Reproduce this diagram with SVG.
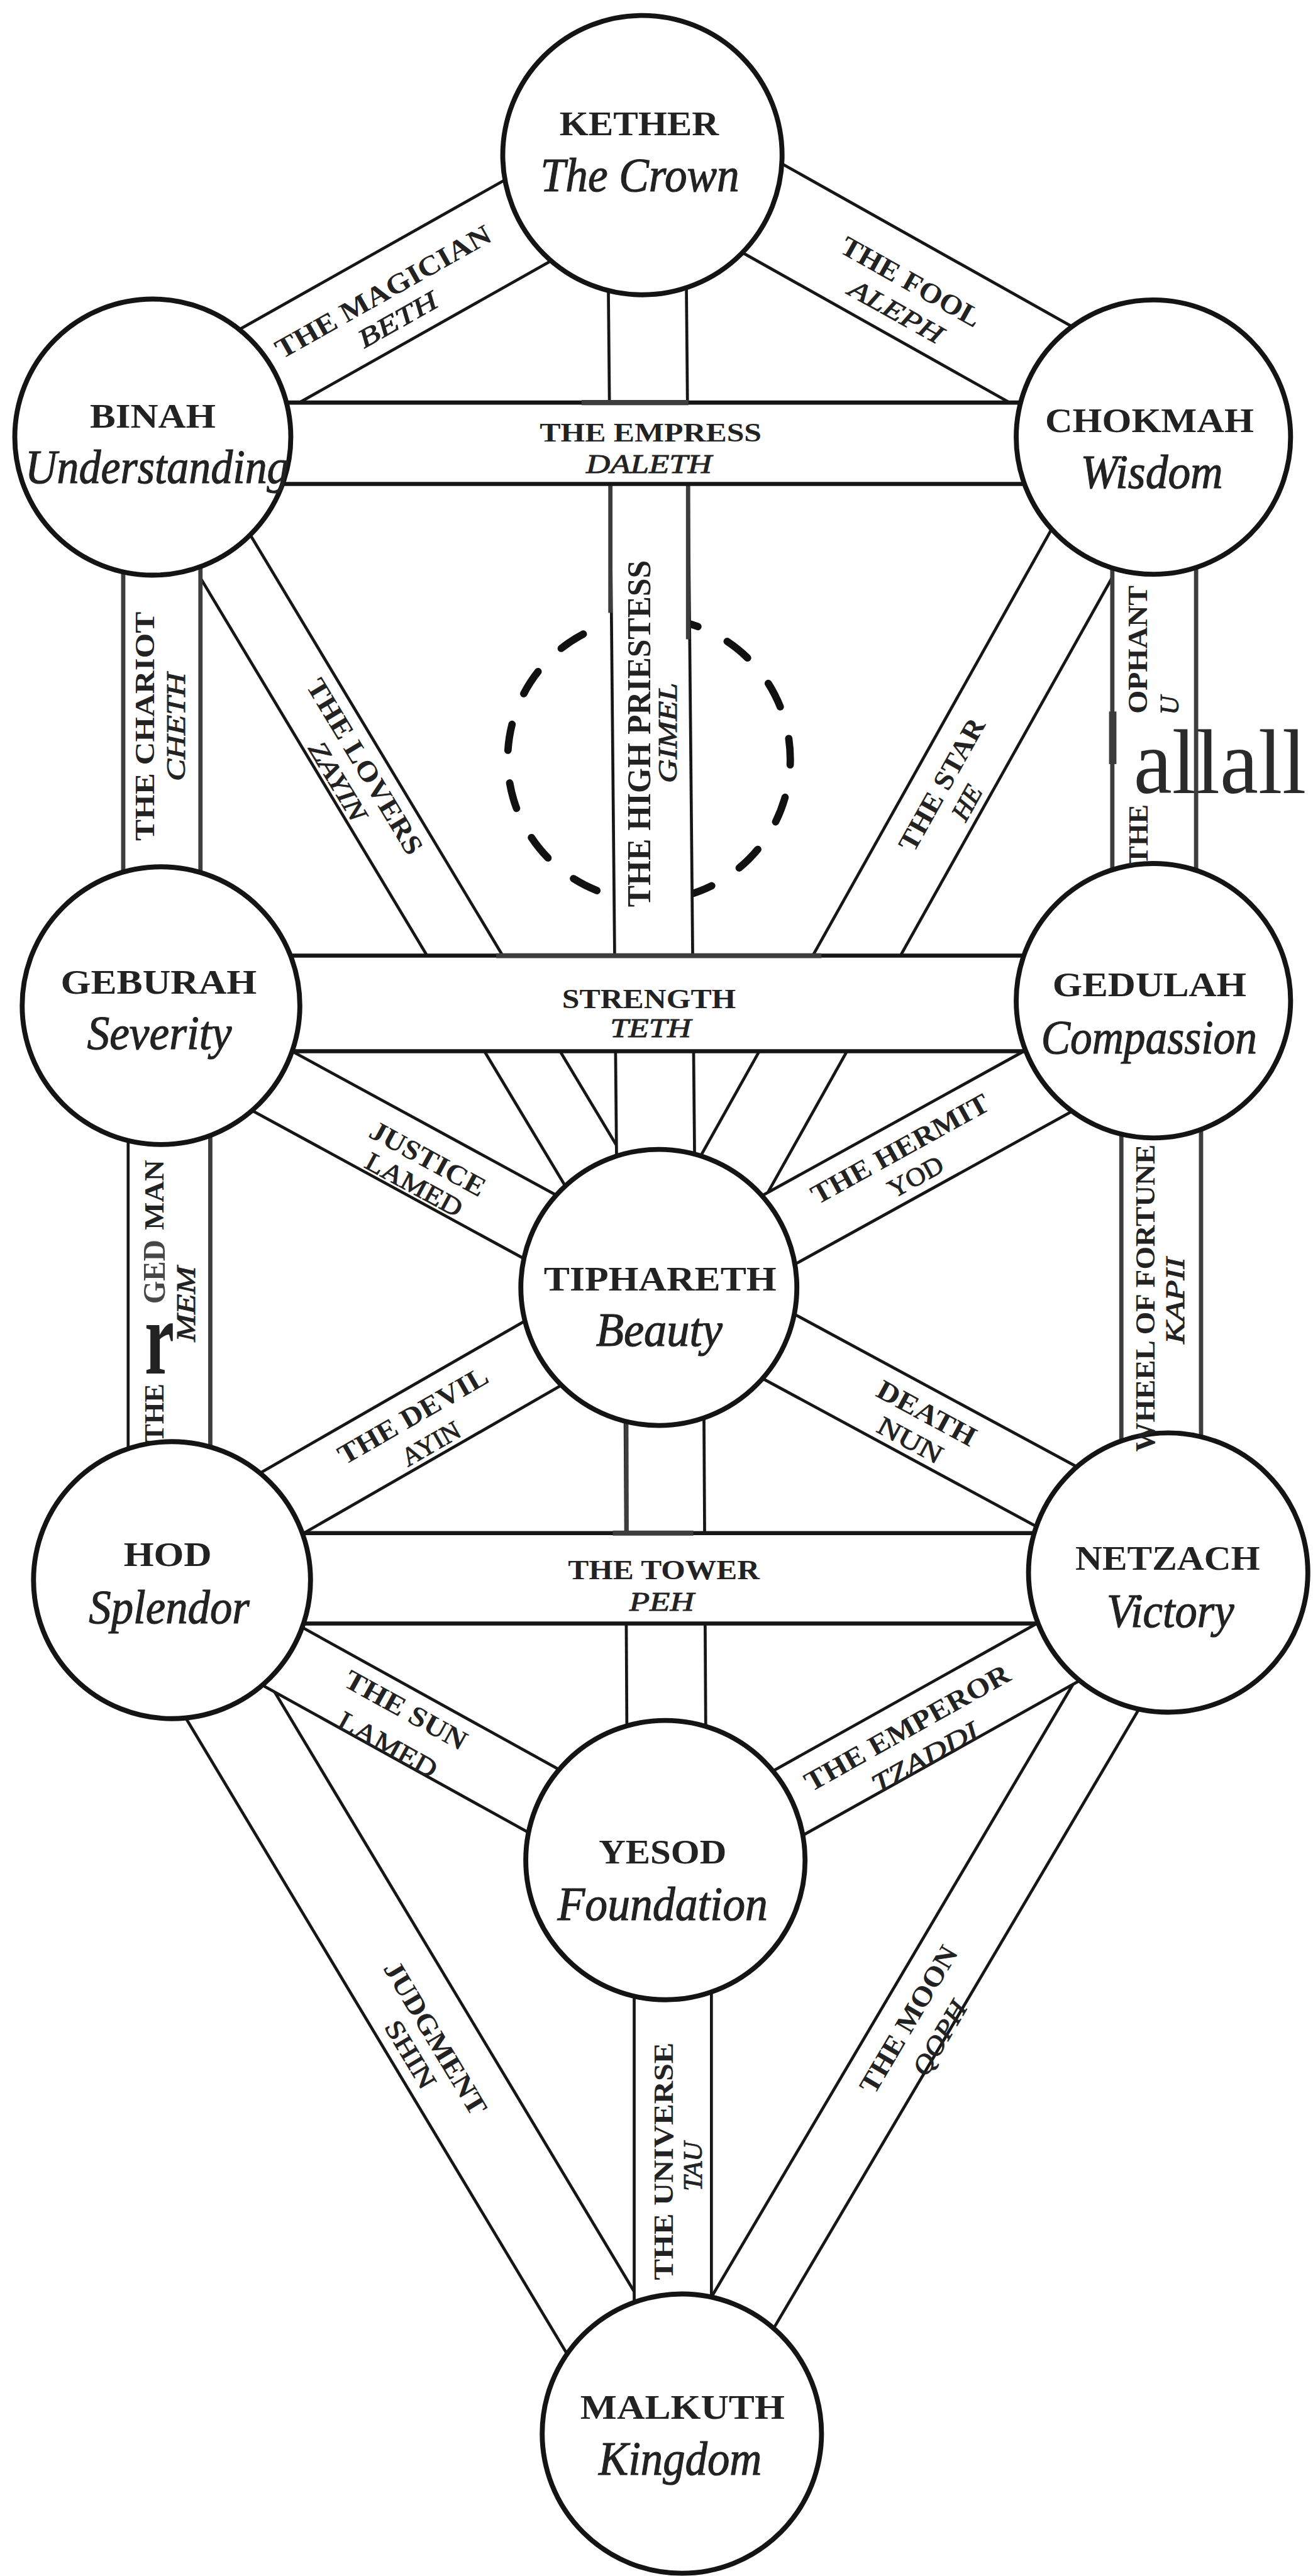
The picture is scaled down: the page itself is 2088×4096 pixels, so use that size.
<svg xmlns="http://www.w3.org/2000/svg" width="2088" height="4096" viewBox="0 0 2088 4096">
<style>
.c{fill:#fff;stroke:#141414;stroke-width:3}
.bf{fill:#fff;stroke:none}
.e{stroke:#161616;stroke-width:1.8;fill:none}
.eh{stroke:#161616;stroke-width:2.5;fill:none}
.g{stroke:#3d3d3d;stroke-width:2.6;fill:none}
.dash{fill:none;stroke:#111;stroke-width:4.5;stroke-dasharray:16 20;stroke-dashoffset:12.5;stroke-linecap:round}
text{font-family:'Liberation Serif','DejaVu Serif',serif;fill:#222;text-anchor:middle}
.n{font-weight:bold;font-size:21px}
.s{font-style:italic;font-size:29px;stroke:#222;stroke-width:0.45}
.p{font-weight:bold;font-size:17px}
.h{font-style:italic;font-size:16px;stroke:#222;stroke-width:0.35}
.r{font-size:16px;stroke:#222;stroke-width:0.35}
</style>
<rect width="2088" height="4096" fill="#fff"/>
<g transform="scale(2.6128)">
<g id="connectors">
<circle class="dash" cx="395" cy="462" r="86"/>
<g id="p-magician"><polygon class="bf" points="79.1,238 377.1,70.2 404.9,119.6 106.9,287.4"/><line class="e" x1="79.1" y1="238" x2="377.1" y2="70.2"/><line class="e" x1="106.9" y1="287.4" x2="404.9" y2="119.6"/></g>
<g id="p-fool"><polygon class="bf" points="405.4,60.1 716.4,234.6 687.6,286 376.6,111.5"/><line class="e" x1="405.4" y1="60.1" x2="716.4" y2="234.6"/><line class="e" x1="376.6" y1="111.5" x2="687.6" y2="286"/></g>
<g id="p-lovers"><polygon class="bf" points="76.7,276.2 386.9,793.2 420.7,772.8 110.5,255.8"/><line class="e" x1="76.7" y1="276.2" x2="386.9" y2="793.2"/><line class="e" x1="110.5" y1="255.8" x2="420.7" y2="772.8"/></g>
<g id="p-star"><polygon class="bf" points="677.8,254.6 388.3,771.6 428.9,794.4 718.4,277.4"/><line class="e" x1="677.8" y1="254.6" x2="388.3" y2="771.6"/><line class="e" x1="718.4" y1="277.4" x2="428.9" y2="794.4"/></g>
<g id="p-justice"><polygon class="bf" points="108.4,602 411.4,767 390.6,805 87.6,640"/><line class="e" x1="108.4" y1="602" x2="411.4" y2="767"/><line class="e" x1="87.6" y1="640" x2="390.6" y2="805"/></g>
<g id="p-hermit"><polygon class="bf" points="690.8,602.4 389.8,768.5 412.2,808.9 713.2,642.8"/><line class="e" x1="690.8" y1="602.4" x2="389.8" y2="768.5"/><line class="e" x1="713.2" y1="642.8" x2="412.2" y2="808.9"/></g>
<g id="p-death"><polygon class="bf" points="411.4,760.8 721.4,928.3 700.6,966.7 390.6,799.2"/><line class="e" x1="411.4" y1="760.8" x2="721.4" y2="928.3"/><line class="e" x1="390.6" y1="799.2" x2="700.6" y2="966.7"/></g>
<g id="p-devil"><polygon class="bf" points="93.8,933.5 389.8,763.5 412.2,802.5 116.2,972.5"/><line class="e" x1="93.8" y1="933.5" x2="389.8" y2="763.5"/><line class="e" x1="116.2" y1="972.5" x2="412.2" y2="802.5"/></g>
<g id="p-judgment"><polygon class="bf" points="71.4,976 382.6,1495 429.4,1467 118.2,948"/><line class="e" x1="71.4" y1="976" x2="382.6" y2="1495"/><line class="e" x1="118.2" y1="948" x2="429.4" y2="1467"/></g>
<g id="p-sun"><polygon class="bf" points="115.3,952.4 415.3,1118.4 394.7,1155.6 94.7,989.6"/><line class="e" x1="115.3" y1="952.4" x2="415.3" y2="1118.4"/><line class="e" x1="94.7" y1="989.6" x2="394.7" y2="1155.6"/></g>
<g id="p-moon"><polygon class="bf" points="699.5,946.3 390.3,1470.3 426.7,1491.8 735.9,967.8"/><line class="e" x1="699.5" y1="946.3" x2="390.3" y2="1470.3"/><line class="e" x1="735.9" y1="967.8" x2="426.7" y2="1491.8"/></g>
<g id="p-emperor"><polygon class="bf" points="700.5,949.2 394.5,1120.2 415.5,1157.8 721.5,986.8"/><line class="e" x1="700.5" y1="949.2" x2="394.5" y2="1120.2"/><line class="e" x1="721.5" y1="986.8" x2="415.5" y2="1157.8"/></g>
<g id="p-priestess"><polygon class="bf" points="369.5,94 417,94 423.5,783 376,783"/><line class="e" x1="369.5" y1="94" x2="376" y2="783"/><line class="e" x1="417" y1="94" x2="423.5" y2="783"/><line class="g" x1="371.5" y1="294.5" x2="371.5" y2="373"/><line class="g" x1="418.8" y1="294.5" x2="418.8" y2="389"/></g>
<g id="p-chariot"><rect class="bf" x="75" y="266" width="47" height="346"/><line class="g" x1="75" y1="266" x2="75" y2="612"/><line class="g" x1="122" y1="266" x2="122" y2="612"/></g>
<g id="p-hierophant"><rect class="bf" x="677" y="266" width="51" height="343"/><line class="g" x1="677" y1="266" x2="677" y2="609"/><line class="g" x1="728" y1="266" x2="728" y2="609"/><rect x="675" y="433" width="4.5" height="32" fill="#3c3c3c"/></g>
<g id="p-wheel"><rect class="bf" x="682.5" y="609" width="48.5" height="348"/><line class="g" x1="682.5" y1="609" x2="682.5" y2="957"/><line class="g" x1="731" y1="609" x2="731" y2="957"/></g>
<g id="p-hanged"><rect class="bf" x="78" y="612" width="50" height="350"/><line class="e" x1="78" y1="612" x2="78" y2="962"/><line class="g" x1="128" y1="612" x2="128" y2="962"/></g>
<g id="p-temperance"><polygon class="bf" points="380,783 428,783 430,1132 382,1132"/><line class="e" x1="380" y1="783" x2="382" y2="1132"/><line class="e" x1="428" y1="783" x2="430" y2="1132"/><line class="g" x1="381.2" y1="865" x2="381.4" y2="933"/></g>
<g id="p-universe"><rect class="bf" x="386" y="1132" width="47" height="349"/><line class="e" x1="386" y1="1132" x2="386" y2="1481"/><line class="e" x1="433" y1="1132" x2="433" y2="1481"/></g>
<g id="p-empress"><rect class="bf" x="93" y="245" width="609" height="49.5"/><line class="eh" x1="93" y1="245" x2="702" y2="245"/><line class="eh" x1="93" y1="294.5" x2="702" y2="294.5"/><line class="g" x1="354" y1="245" x2="419" y2="245" style="stroke-width:3.2"/></g>
<g id="p-strength"><rect class="bf" x="98" y="581.6" width="604" height="58.1"/><line class="eh" x1="98" y1="581.6" x2="702" y2="581.6"/><line class="eh" x1="98" y1="639.7" x2="702" y2="639.7"/><line class="g" x1="302" y1="581.6" x2="500" y2="581.6" style="stroke-width:3"/></g>
<g id="p-tower"><rect class="bf" x="105" y="933" width="606" height="55"/><line class="eh" x1="105" y1="933" x2="711" y2="933"/><line class="eh" x1="105" y1="988" x2="711" y2="988"/><line class="g" x1="373" y1="933" x2="422" y2="933" style="stroke-width:3"/></g>
</g>
<g id="kether"><circle class="c" cx="391" cy="94.4" r="85"/><text class="n" x="389" y="82.2" textLength="97" lengthAdjust="spacingAndGlyphs">KETHER</text><text class="s" x="389.5" y="116.3" textLength="121" lengthAdjust="spacingAndGlyphs">The Crown</text></g>
<g id="binah"><circle class="c" cx="93" cy="266" r="84"/><text class="n" x="93" y="260.4" textLength="76.5" lengthAdjust="spacingAndGlyphs">BINAH</text><text class="s" x="95.6" y="293.9" textLength="160.6" lengthAdjust="spacingAndGlyphs">Understanding</text></g>
<g id="chokmah"><circle class="c" cx="702" cy="266" r="83.5"/><text class="n" x="699.6" y="262.8" textLength="127" lengthAdjust="spacingAndGlyphs">CHOKMAH</text><text class="s" x="701" y="297" textLength="86.6" lengthAdjust="spacingAndGlyphs">Wisdom</text></g>
<g id="geburah"><circle class="c" cx="98" cy="612" r="84.5"/><text class="n" x="96.6" y="604.6" textLength="119.3" lengthAdjust="spacingAndGlyphs">GEBURAH</text><text class="s" x="97" y="638.5" textLength="88" lengthAdjust="spacingAndGlyphs">Severity</text></g>
<g id="gedulah"><circle class="c" cx="702" cy="609" r="83.5"/><text class="n" x="699.6" y="606.3" textLength="118" lengthAdjust="spacingAndGlyphs">GEDULAH</text><text class="s" x="699.4" y="641.1" textLength="131.4" lengthAdjust="spacingAndGlyphs">Compassion</text></g>
<g id="tiphareth"><circle class="c" cx="401" cy="783.5" r="84"/><text class="n" x="401.8" y="785.2" textLength="141.6" lengthAdjust="spacingAndGlyphs">TIPHARETH</text><text class="s" x="401.2" y="819" textLength="77" lengthAdjust="spacingAndGlyphs">Beauty</text></g>
<g id="hod"><circle class="c" cx="104.7" cy="961.6" r="84.3"/><text class="n" x="102.1" y="953" textLength="53.6" lengthAdjust="spacingAndGlyphs">HOD</text><text class="s" x="103" y="988" textLength="97.8" lengthAdjust="spacingAndGlyphs">Splendor</text></g>
<g id="netzach"><circle class="c" cx="711" cy="957" r="85"/><text class="n" x="710.7" y="955.3" textLength="112.4" lengthAdjust="spacingAndGlyphs">NETZACH</text><text class="s" x="712.4" y="990.2" textLength="77.5" lengthAdjust="spacingAndGlyphs">Victory</text></g>
<g id="yesod"><circle class="c" cx="405" cy="1132" r="85"/><text class="n" x="403.3" y="1134.2" textLength="77.7" lengthAdjust="spacingAndGlyphs">YESOD</text><text class="s" x="403.3" y="1168.3" textLength="128" lengthAdjust="spacingAndGlyphs">Foundation</text></g>
<g id="malkuth"><circle class="c" cx="415" cy="1481" r="85"/><text class="n" x="415.4" y="1472" textLength="124.4" lengthAdjust="spacingAndGlyphs">MALKUTH</text><text class="s" x="414" y="1506" textLength="99.3" lengthAdjust="spacingAndGlyphs">Kingdom</text></g>
<g id="path-labels">
<text class="p" x="396" y="268.8" style="font-size:16px" textLength="135" lengthAdjust="spacingAndGlyphs">THE EMPRESS</text>
<text class="h" x="395" y="288" textLength="76.5" lengthAdjust="spacingAndGlyphs">DALETH</text>
<text class="p" x="395" y="613.4" textLength="105.8" lengthAdjust="spacingAndGlyphs">STRENGTH</text>
<text class="h" x="396" y="631" textLength="49.3" lengthAdjust="spacingAndGlyphs">TETH</text>
<text class="p" x="404" y="961.1" textLength="116.6" lengthAdjust="spacingAndGlyphs">THE TOWER</text>
<text class="h" x="402.7" y="980.3" textLength="39.4" lengthAdjust="spacingAndGlyphs">PEH</text>
<text class="p" transform="translate(88 442) rotate(-90)" dy="0.33em" textLength="139.4" lengthAdjust="spacingAndGlyphs">THE CHARIOT</text>
<text class="h" transform="translate(107.2 442.4) rotate(-90)" dy="0.33em" textLength="66" lengthAdjust="spacingAndGlyphs">CHETH</text>
<text class="p" style="font-size:20px" transform="translate(389 446.5) rotate(-90)" dy="0.33em" textLength="211" lengthAdjust="spacingAndGlyphs">THE HIGH PRIESTESS</text>
<text class="h" transform="translate(406.7 446) rotate(-90)" dy="0.33em" textLength="61" lengthAdjust="spacingAndGlyphs">GIMEL</text>
<text class="p" transform="translate(692.6 395.3) rotate(-90)" dy="0.33em" textLength="78" lengthAdjust="spacingAndGlyphs">OPHANT</text>
<text class="h" transform="translate(711.8 429.2) rotate(-90)" dy="0.33em">U</text>
<text class="p" transform="translate(693 508) rotate(-90)" dy="0.33em" textLength="37" lengthAdjust="spacingAndGlyphs">THE</text>
<text x="690" y="482.8" style="font-size:56px;text-anchor:start;fill:#2a2a2a" textLength="105" lengthAdjust="spacingAndGlyphs">allall</text>
<text class="p" transform="translate(697 790) rotate(-90)" dy="0.33em" textLength="187" lengthAdjust="spacingAndGlyphs">WHEEL OF FORTUNE</text>
<text class="h" transform="translate(715.5 791.6) rotate(-90)" dy="0.33em" textLength="52.5" lengthAdjust="spacingAndGlyphs">KAPII</text>
<text class="p" transform="translate(94 727.2) rotate(-90)" dy="0.33em" textLength="42.7" lengthAdjust="spacingAndGlyphs">MAN</text>
<text class="p" style="font-size:19px;fill:#474747" transform="translate(94.1 774) rotate(-90)" dy="0.33em" textLength="39" lengthAdjust="spacingAndGlyphs">GED</text>
<text x="97" y="835.7" style="font-size:64px;font-weight:bold" textLength="18" lengthAdjust="spacingAndGlyphs">r</text>
<text class="p" transform="translate(93.8 860) rotate(-90)" dy="0.33em" textLength="36" lengthAdjust="spacingAndGlyphs">THE</text>
<text class="h" transform="translate(113.3 793.6) rotate(-90)" dy="0.33em" textLength="46" lengthAdjust="spacingAndGlyphs">MEM</text>
<text class="p" transform="translate(404 1315.3) rotate(-90)" dy="0.33em" textLength="144.6" lengthAdjust="spacingAndGlyphs">THE UNIVERSE</text>
<text class="h" transform="translate(421.8 1318.4) rotate(-90)" dy="0.33em" textLength="30" lengthAdjust="spacingAndGlyphs">TAU</text>
<text class="p" transform="translate(233.2 177.6) rotate(-29.4)" dy="0.33em" textLength="147.8" lengthAdjust="spacingAndGlyphs">THE MAGICIAN</text>
<text class="h" transform="translate(242.1 194.6) rotate(-29.4)" dy="0.33em" textLength="53" lengthAdjust="spacingAndGlyphs">BETH</text>
<text class="p" transform="translate(554.4 171.5) rotate(29.3)" dy="0.33em" textLength="95" lengthAdjust="spacingAndGlyphs">THE FOOL</text>
<text class="h" transform="translate(545.4 189.6) rotate(29.3)" dy="0.33em" textLength="63" lengthAdjust="spacingAndGlyphs">ALEPH</text>
<text class="p" transform="translate(222 466.5) rotate(59)" dy="0.33em" textLength="121.6" lengthAdjust="spacingAndGlyphs">THE LOVERS</text>
<text class="h" transform="translate(205.5 475.5) rotate(59)" dy="0.33em" textLength="53.7" lengthAdjust="spacingAndGlyphs">ZAYIN</text>
<text class="p" transform="translate(573.2 477.5) rotate(-60.75)" dy="0.33em" textLength="90" lengthAdjust="spacingAndGlyphs">THE STAR</text>
<text class="h" transform="translate(588.5 488.5) rotate(-60.75)" dy="0.33em" textLength="22" lengthAdjust="spacingAndGlyphs">HE</text>
<text class="p" transform="translate(260.4 705.2) rotate(28.6)" dy="0.33em" textLength="77.7" lengthAdjust="spacingAndGlyphs">JUSTICE</text>
<text class="r" transform="translate(252 721) rotate(28.6)" dy="0.33em" textLength="64.7" lengthAdjust="spacingAndGlyphs">LAMED</text>
<text class="p" transform="translate(547.8 699.2) rotate(-28.9)" dy="0.33em" textLength="121" lengthAdjust="spacingAndGlyphs">THE HERMIT</text>
<text class="r" transform="translate(557.3 716.2) rotate(-28.9)" dy="0.33em" textLength="36" lengthAdjust="spacingAndGlyphs">YOD</text>
<text class="p" transform="translate(251.3 861.4) rotate(-29.9)" dy="0.33em" textLength="102.4" lengthAdjust="spacingAndGlyphs">THE DEVIL</text>
<text class="r" transform="translate(262.3 878.6) rotate(-29.9)" dy="0.33em" textLength="38.6" lengthAdjust="spacingAndGlyphs">AYIN</text>
<text class="p" transform="translate(564 860) rotate(28.4)" dy="0.33em" textLength="66" lengthAdjust="spacingAndGlyphs">DEATH</text>
<text class="r" transform="translate(554 876.5) rotate(28.4)" dy="0.33em" textLength="42.7" lengthAdjust="spacingAndGlyphs">NUN</text>
<text class="p" transform="translate(247 1040.7) rotate(29)" dy="0.33em" textLength="82.5" lengthAdjust="spacingAndGlyphs">THE SUN</text>
<text class="r" transform="translate(236 1061.8) rotate(29)" dy="0.33em" textLength="66.3" lengthAdjust="spacingAndGlyphs">LAMED</text>
<text class="p" transform="translate(552.2 1051.5) rotate(-29.2)" dy="0.33em" textLength="140.4" lengthAdjust="spacingAndGlyphs">THE EMPEROR</text>
<text class="h" transform="translate(563 1069.5) rotate(-29.2)" dy="0.33em" textLength="71.8" lengthAdjust="spacingAndGlyphs">TZADDI</text>
<text class="p" transform="translate(265 1240.3) rotate(59.1)" dy="0.33em" textLength="106" lengthAdjust="spacingAndGlyphs">JUDGMENT</text>
<text class="r" transform="translate(249.8 1250.3) rotate(59.1)" dy="0.33em" textLength="45.6" lengthAdjust="spacingAndGlyphs">SHIN</text>
<text class="p" transform="translate(553 1229) rotate(-59.45)" dy="0.33em" textLength="101" lengthAdjust="spacingAndGlyphs">THE MOON</text>
<text class="h" transform="translate(572 1240.4) rotate(-59.45)" dy="0.33em" textLength="49.8" lengthAdjust="spacingAndGlyphs">QOPH</text>
</g>
</g>
</svg>
